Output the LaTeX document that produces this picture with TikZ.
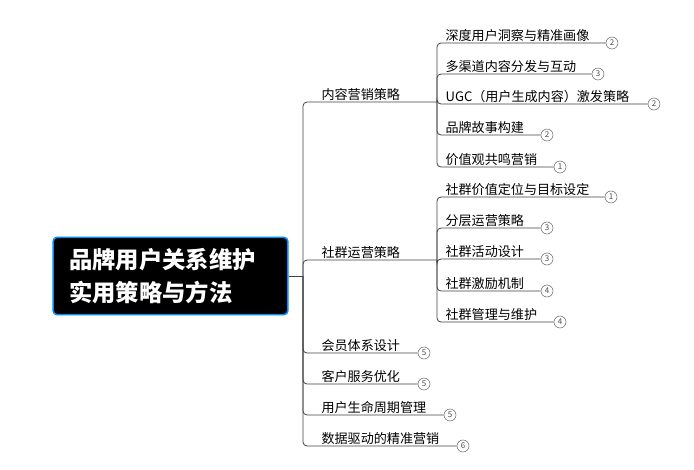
\documentclass[tikz,border=0pt]{standalone}
\usepackage{fontspec}
\setmainfont{Noto Sans CJK SC}
\begin{document}
\begin{tikzpicture}[x=0.75pt,y=-0.75pt,
  lbl/.style={anchor=south west,inner sep=1pt,font=\fontsize{9.8}{10}\selectfont},
  num/.style={circle,draw=black!60,fill=white,inner sep=0pt,minimum size=9pt,font=\fontsize{6}{6}\selectfont,text=black!70},
  ln/.style={draw=black!75,line width=0.6pt,rounded corners=3pt}]
\useasboundingbox (0,0) rectangle (694,469);
\node[draw=blue!45!cyan,line width=1.2pt,fill=black,rounded corners=3pt,inner sep=0pt,
  font=\fontsize{17.5}{25}\selectfont\bfseries,text=white,align=left,minimum height=58pt,minimum width=176pt] (root) at (170.5,276) {品牌用户关系维护\hspace*{12pt}\\实用策略与方法\hspace*{12pt}};
\coordinate (t) at (303,276);
\draw[ln] (root.east) -- (t);
% level 1
\def\brA#1#2#3#4#5{% name, y, text, circle x, circle label
  \node[lbl] (#1) at (320,#2) {#3};
  \node[num] (#1c) at (#4,#2) {#5};
  \draw[ln] (t) |- (#1c.west);
}
\node[lbl] (a) at (320,102) {内容营销策略};
\node[lbl] (b) at (320,260) {社群运营策略};
\coordinate (ae) at (437,102);
\coordinate (be) at (437,260);
\draw[ln] (t) |- (ae);
\draw[ln] (t) |- (be);
\brA{c}{353}{会员体系设计}{424}{5}
\brA{d}{384}{客户服务优化}{424}{5}
\brA{e}{415}{用户生命周期管理}{450}{5}
\brA{f}{446}{数据驱动的精准营销}{463}{6}
% level 2
\def\brB#1#2#3#4#5#6{% parent, name, y, text, cx, label
  \node[lbl] (#2) at (444,#3) {#4};
  \node[num] (#2c) at (#5,#3) {#6};
  \draw[ln] (#1) |- (#2c.west);
}
\brB{ae}{a1}{43}{深度用户洞察与精准画像}{612}{2}
\brB{ae}{a2}{74}{多渠道内容分发与互动}{598}{3}
\brB{ae}{a3}{104}{UGC（用户生成内容）激发策略}{654}{2}
\brB{ae}{a4}{135}{品牌故事构建}{547}{2}
\brB{ae}{a5}{167}{价值观共鸣营销}{560}{1}
\brB{be}{b1}{197}{社群价值定位与目标设定}{611}{1}
\brB{be}{b2}{228}{分层运营策略}{547}{3}
\brB{be}{b3}{259}{社群活动设计}{547}{3}
\brB{be}{b4}{291}{社群激励机制}{547}{4}
\brB{be}{b5}{322}{社群管理与维护}{560}{4}
\end{tikzpicture}
\end{document}
